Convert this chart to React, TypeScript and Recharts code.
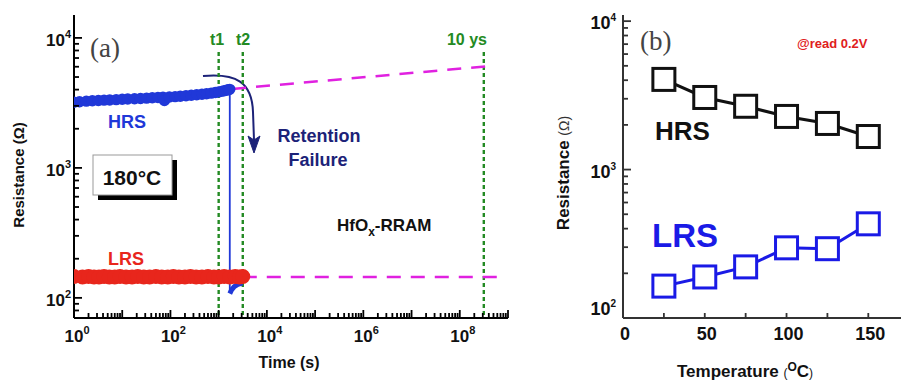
import React from 'react';
import { ComposedChart, Line, XAxis, YAxis, ReferenceLine, Customized } from 'recharts';

// ---------- Panel (a) data ----------
const hrsTimeA = [1, 1.3, 1.8, 2.4, 3.2, 4.2, 5.5, 7.5, 10, 13, 18, 24, 32, 42, 55, 70, 75, 95, 125, 160, 210, 270, 350, 450, 560, 700, 850, 1000, 1150, 1300, 1450, 1600, 1700];
const hrsResA = [3200, 3230, 3260, 3280, 3300, 3320, 3330, 3350, 3370, 3390, 3400, 3420, 3440, 3460, 3480, 3500, 3300, 3510, 3530, 3560, 3590, 3620, 3650, 3680, 3720, 3760, 3800, 3840, 3880, 3920, 3960, 4000, 4020];
const lrsTimeA = [1, 1.5, 2, 2.6, 3.3, 4.2, 5.4, 7, 9, 12, 16, 21, 28, 37, 50, 66, 88, 115, 150, 200, 260, 340, 450, 600, 800, 1000, 1300, 1700, 2200, 2700, 3162];
const lrsResA = [146, 145, 146, 145, 145, 146, 145, 145, 146, 145, 145, 146, 145, 145, 146, 145, 145, 146, 145, 145, 146, 145, 145, 146, 145, 145, 146, 145, 146, 145, 146];
const dropTimeA = [1700, 1700];
const dropResA = [4000, 112];
const afterTimeA = [1700, 1850, 2100, 2500, 3100];
const afterResA = [108, 115, 122, 127, 130];
const markerTimesA = [1000, 3162, 3.15e8];
const markerLabelsA = ['t1', 't2', '10 ys'];
const hrsExtrapT = [1900, 4.9e8];
const hrsExtrapR = [4050, 6100];
const lrsExtrapT = [3162, 6.9e8];
const lrsExtrapR = [145, 145];

// ---------- Panel (b) data ----------
const tempsB = [25, 50, 75, 100, 125, 150];
const hrsB = [4050, 3060, 2670, 2280, 2045, 1670];
const lrsB = [164, 189, 221, 297, 293, 431];
const xTickLabelsB = [0, 50, 100, 150];

const F = 'Arial, "Liberation Sans", Helvetica, sans-serif';
const SERIF = '"Liberation Serif", "DejaVu Serif", serif';

const HRS_BLUE = '#2038d8';
const LRS_RED = '#e8261c';
const MAGENTA = '#e021e0';
const GREEN = '#238a23';
const NAVY = '#1c2278';
const BBLUE = '#1a1ae6';

// layout (plot boxes)
const A = { left: 74, top: 15, right: 508, bottom: 318, width: 540, height: 380 };
const B = { offX: 540, left: 83, top: 15, bottom: 318, width: 361, height: 380 };

const zipA = (ts: number[], rs: number[]) => ts.map((t, i) => ({ t, r: rs[i] }));
const hrsDataA = zipA(hrsTimeA, hrsResA);
const lrsDataA = zipA(lrsTimeA, lrsResA);
const dropDataA = zipA(dropTimeA, dropResA);
const afterDataA = zipA(afterTimeA, afterResA);
const dataB = tempsB.map((T, i) => ({ T, hrs: hrsB[i], lrs: lrsB[i] }));

const logTicks = (lo: number, hi: number) => {
  const out: number[] = [];
  for (let e = -1; e <= 10; e++) {
    for (let m = 1; m <= 9; m++) {
      const v = m * Math.pow(10, e);
      if (v >= lo * 0.9999 && v <= hi * 1.0001) out.push(v);
    }
  }
  return out;
};
const xTicksA = logTicks(1, 1e9);
const yTicksA = logTicks(70, 15000);
const yTicksB = logTicks(100, 11000);
const xTicksB = [0, 25, 50, 75, 100, 125, 150];

const isDecade = (v: number) => {
  const l = Math.log10(v);
  return Math.abs(l - Math.round(l)) < 1e-6;
};

const TW = 1.8;

// ---------- tick renderers ----------
const XBottomTickA = (p: any) => {
  const { x, payload } = p;
  const v = payload.value;
  const dec = isDecade(v);
  const e = Math.round(Math.log10(v));
  return (
    <g>
      <line x1={x} x2={x} y1={A.bottom} y2={A.bottom - (dec ? 8 : 5)} stroke="#000" strokeWidth={TW} />
      {dec && e % 2 === 0 && e < 9 ? (
        <text x={x + 3} y={342} textAnchor="middle" fontFamily={F} fontWeight="bold" fontSize={17} fill="#111">
          10<tspan dy={-8} fontSize={11}>{e}</tspan>
        </text>
      ) : null}
    </g>
  );
};
const XTopTickA = (p: any) => {
  const { x, payload } = p;
  const dec = isDecade(payload.value);
  return <line x1={x} x2={x} y1={A.top} y2={A.top + (dec ? 8 : 5)} stroke="#000" strokeWidth={TW} />;
};
const YLeftTickA = (p: any) => {
  const { y, payload } = p;
  const v = payload.value;
  const dec = isDecade(v);
  const e = Math.round(Math.log10(v));
  return (
    <g>
      <line x1={A.left} x2={A.left + (dec ? 8 : 5)} y1={y} y2={y} stroke="#000" strokeWidth={TW} />
      {dec ? (
        <text x={71} y={y + 8} textAnchor="end" fontFamily={F} fontWeight="bold" fontSize={17} fill="#111">
          10<tspan dy={-8} fontSize={11}>{e}</tspan>
        </text>
      ) : null}
    </g>
  );
};
const YRightTickA = (p: any) => {
  const { y, payload } = p;
  const dec = isDecade(payload.value);
  return <line x1={A.right} x2={A.right - (dec ? 8 : 5)} y1={y} y2={y} stroke="#000" strokeWidth={TW} />;
};

const XBottomTickB = (p: any) => {
  const { x, payload } = p;
  const v = payload.value;
  return (
    <g>
      <line x1={x} x2={x} y1={B.bottom} y2={B.bottom - 5} stroke="#333" strokeWidth={TW} />
      {xTickLabelsB.includes(v) ? (
        <text x={x + 2} y={340} textAnchor="middle" fontFamily={F} fontWeight="bold" fontSize={18} fill="#111">
          {v}
        </text>
      ) : null}
    </g>
  );
};
const XTopTickB = (p: any) => {
  const { x } = p;
  return <line x1={x} x2={x} y1={B.top} y2={B.top + 5} stroke="#333" strokeWidth={TW} />;
};
const YLeftTickB = (p: any) => {
  const { y, payload } = p;
  const v = payload.value;
  const dec = isDecade(v);
  const e = Math.round(Math.log10(v));
  return (
    <g>
      <line x1={B.left} x2={B.left + (dec ? 8 : 5)} y1={y} y2={y} stroke="#333" strokeWidth={TW} />
      {dec ? (
        <text x={76} y={e === 2 ? y - 3 : y + 8} textAnchor="end" fontFamily={F} fontWeight="bold" fontSize={18} fill="#111">
          10<tspan dy={-8} fontSize={10}>{e}</tspan>
        </text>
      ) : null}
    </g>
  );
};

const SquareDot = (color: string) => (p: any) => {
  const { cx, cy, index } = p;
  if (cx == null || cy == null) return <g key={index} />;
  return (
    <rect key={index} x={cx - 11} y={cy - 11} width={22} height={22} fill="#fff" stroke={color} strokeWidth={3} />
  );
};

// ---------- annotations ----------
const AnnotA = () => (
  <g>
    <text x={90} y={57} fontFamily={SERIF} fontSize={27} fill="#444">(a)</text>
    <text x={217} y={45} textAnchor="middle" fontFamily={F} fontWeight="bold" fontSize={16} fill={GREEN}>{markerLabelsA[0]}</text>
    <text x={243} y={45} textAnchor="middle" fontFamily={F} fontWeight="bold" fontSize={16} fill={GREEN}>{markerLabelsA[1]}</text>
    <text x={467} y={45} textAnchor="middle" fontFamily={F} fontWeight="bold" fontSize={16} fill={GREEN}>{markerLabelsA[2]}</text>
    <text x={108} y={128} fontFamily={F} fontWeight="bold" fontSize={18} fill={HRS_BLUE}>HRS</text>
    <text x={108} y={265} fontFamily={F} fontWeight="bold" fontSize={18} fill={LRS_RED}>LRS</text>
    <rect x={98} y={160} width={79} height={40} fill="#000" />
    <rect x={93} y={155} width={79} height={40} fill="#fff" stroke="#999" strokeWidth={1} />
    <text x={132} y={185} textAnchor="middle" fontFamily={F} fontWeight="bold" fontSize={21} fill="#111">180°C</text>
    <path d="M203,76 C236,73 252,82 253,112 L254,140" fill="none" stroke={NAVY} strokeWidth={2} />
    <path d="M254,153 L248,136 L254,140 L260,136 Z" fill={NAVY} stroke={NAVY} strokeWidth={1} />
    <text x={319} y={142} textAnchor="middle" fontFamily={F} fontWeight="bold" fontSize={18} fill={NAVY}>Retention</text>
    <text x={318} y={166} textAnchor="middle" fontFamily={F} fontWeight="bold" fontSize={18} fill={NAVY}>Failure</text>
    <text x={337} y={231} fontFamily={F} fontWeight="bold" fontSize={17} fill="#111">
      HfO<tspan dy={5} fontSize={12}>x</tspan><tspan dy={-5}>-RRAM</tspan>
    </text>
    <text transform="translate(24,175) rotate(-90)" textAnchor="middle" fontFamily={F} fontWeight="bold" fontSize={15} fill="#111">
      Resistance (Ω)
    </text>
    <text x={289} y={368} textAnchor="middle" fontFamily={F} fontWeight="bold" fontSize={16} fill="#111">Time (s)</text>
  </g>
);

const AnnotB = () => (
  <g>
    <text x={640 - B.offX} y={50} fontFamily={SERIF} fontSize={27} fill="#444">(b)</text>
    <text x={797 - B.offX} y={48} fontFamily={F} fontWeight="bold" fontSize={13} fill="#e02020">@read 0.2V</text>
    <text x={655 - B.offX} y={140} fontFamily={F} fontWeight="bold" fontSize={26} fill="#111">HRS</text>
    <text x={652 - B.offX} y={247} fontFamily={F} fontWeight="bold" fontSize={33} fill={BBLUE}>LRS</text>
    <text transform={`translate(${569 - B.offX},173) rotate(-90)`} textAnchor="middle" fontFamily={F} fontWeight="bold" fontSize={17} fill="#111">
      Resistance <tspan fontWeight="normal" fontSize={14} fill="#333">(Ω)</tspan>
    </text>
    <text x={677 - B.offX} y={377} fontFamily={F} fontWeight="bold" fontSize={17} fill="#111">
      Temperature <tspan fontSize={12} fontWeight="normal">(</tspan><tspan dy={-6} fontSize={12}>O</tspan><tspan dy={6}>C</tspan><tspan fontSize={12} fontWeight="normal">)</tspan>
    </text>
  </g>
);

export default function App() {
  return (
    <div style={{ position: 'absolute', left: 0, top: 0, width: 901, height: 380, overflow: 'hidden', background: '#fff' }}>
      <div style={{ position: 'absolute', left: 0, top: 0 }}>
        <ComposedChart width={A.width} height={A.height} margin={{ top: A.top, right: A.width - A.right, bottom: 0, left: 0 }}>
          <XAxis xAxisId="b" dataKey="t" type="number" scale="log" domain={[1, 1e9]} allowDataOverflow ticks={xTicksA} interval={0}
            height={A.height - A.bottom} tickLine={false} axisLine={{ stroke: '#000', strokeWidth: 2 }} tick={XBottomTickA} />
          <XAxis xAxisId="t" orientation="top" dataKey="t" type="number" scale="log" domain={[1, 1e9]} allowDataOverflow ticks={xTicksA} interval={0}
            height={0} tickLine={false} axisLine={{ stroke: '#000', strokeWidth: 2 }} tick={XTopTickA} />
          <YAxis yAxisId="l" type="number" scale="log" domain={[70, 15000]} allowDataOverflow ticks={yTicksA} interval={0}
            width={A.left} tickLine={false} axisLine={{ stroke: '#000', strokeWidth: 2 }} tick={YLeftTickA} />
          <YAxis yAxisId="r" orientation="right" type="number" scale="log" domain={[70, 15000]} allowDataOverflow ticks={yTicksA} interval={0}
            width={0} tickLine={false} axisLine={{ stroke: '#000', strokeWidth: 2 }} tick={YRightTickA} />
          {markerTimesA.map((t) => (
            <ReferenceLine key={t} xAxisId="b" yAxisId="l" segment={[{ x: t, y: 7800 }, { x: t, y: 70 }]}
              stroke={GREEN} strokeWidth={2.4} strokeDasharray="4 3" />
          ))}
          <ReferenceLine xAxisId="b" yAxisId="l" segment={[{ x: hrsExtrapT[0], y: hrsExtrapR[0] }, { x: hrsExtrapT[1], y: hrsExtrapR[1] }]}
            stroke={MAGENTA} strokeWidth={2.5} strokeDasharray="14 10" />
          <ReferenceLine xAxisId="b" yAxisId="l" segment={[{ x: lrsExtrapT[0], y: lrsExtrapR[0] }, { x: lrsExtrapT[1], y: lrsExtrapR[1] }]}
            stroke={MAGENTA} strokeWidth={2.5} strokeDasharray="14 10" />
          <Line xAxisId="b" yAxisId="l" data={lrsDataA} dataKey="r" stroke={LRS_RED} strokeWidth={7}
            dot={{ r: 4, fill: LRS_RED, stroke: LRS_RED }} isAnimationActive={false} />
          <Line xAxisId="b" yAxisId="l" data={dropDataA} dataKey="r" stroke={HRS_BLUE} strokeWidth={1.8} dot={false} isAnimationActive={false} />
          <Line xAxisId="b" yAxisId="l" data={afterDataA} dataKey="r" stroke={HRS_BLUE} strokeWidth={5} dot={false} isAnimationActive={false} />
          <Line xAxisId="b" yAxisId="l" data={hrsDataA} dataKey="r" stroke={HRS_BLUE} strokeWidth={5}
            dot={{ r: 3.2, fill: HRS_BLUE, stroke: HRS_BLUE }} isAnimationActive={false} />
          <Customized component={AnnotA} />
        </ComposedChart>
      </div>
      <div style={{ position: 'absolute', left: B.offX, top: 0 }}>
        <ComposedChart width={B.width} height={B.height} data={dataB} margin={{ top: B.top, right: 0, bottom: 0, left: 0 }}>
          <XAxis xAxisId="b" dataKey="T" type="number" domain={[0, 170]} allowDataOverflow ticks={xTicksB} interval={0}
            height={B.height - B.bottom} tickLine={false} axisLine={{ stroke: '#333', strokeWidth: 2 }} tick={XBottomTickB} />
          <XAxis xAxisId="t" orientation="top" dataKey="T" type="number" domain={[0, 170]} allowDataOverflow ticks={xTicksB} interval={0}
            height={0} tickLine={false} axisLine={{ stroke: '#333', strokeWidth: 2 }} tick={XTopTickB} />
          <YAxis yAxisId="l" type="number" scale="log" domain={[100, 11000]} allowDataOverflow ticks={yTicksB} interval={0}
            width={B.left} tickLine={false} axisLine={{ stroke: '#333', strokeWidth: 2 }} tick={YLeftTickB} />
          <Line xAxisId="b" yAxisId="l" dataKey="hrs" stroke="#111" strokeWidth={3} dot={SquareDot('#111')} isAnimationActive={false} />
          <Line xAxisId="b" yAxisId="l" dataKey="lrs" stroke={BBLUE} strokeWidth={3} dot={SquareDot(BBLUE)} isAnimationActive={false} />
          <Customized component={AnnotB} />
        </ComposedChart>
      </div>
    </div>
  );
}
